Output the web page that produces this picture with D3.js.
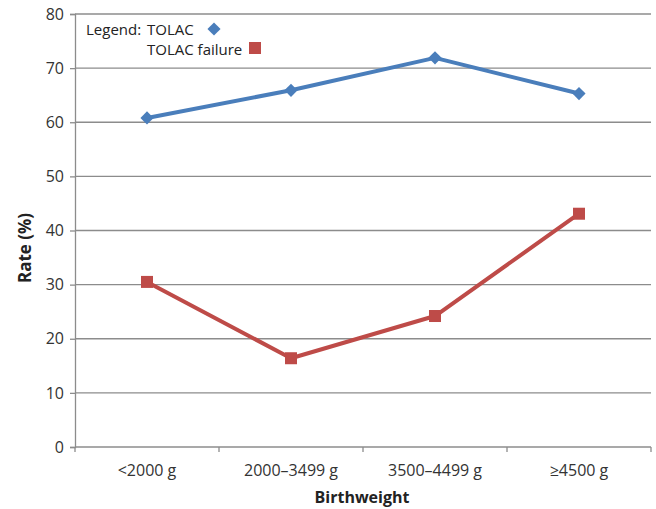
<!DOCTYPE html>
<html>
<head>
<meta charset="utf-8">
<script src="https://cdn.jsdelivr.net/npm/d3@7"></script>
<style>
  body { margin: 0; background: #fff; }
  svg text { font-family: "Open Sans", "Liberation Sans", sans-serif; fill: #222; }
</style>
</head>
<body>
<svg id="chart" width="656" height="509"></svg>
<script>
// Birthweight groups and rates (%)
const categories = ["<2000 g", "2000\u20133499 g", "3500\u20134499 g", "\u22654500 g"];
const tolac = [60.8, 65.9, 71.9, 65.3];
const tolacFailure = [30.5, 16.4, 24.2, 43.1];
const yTicks = [0, 10, 20, 30, 40, 50, 60, 70, 80];

const margin = { top: 14, right: 5, bottom: 62, left: 75 };
const W = 656, H = 509;
const svg = d3.select("#chart");
const g = svg.append("g").attr("transform", `translate(${margin.left},${margin.top})`);
const iw = W - margin.left - margin.right;
const ih = H - margin.top - margin.bottom;

const x = d3.scaleBand().domain(categories).range([0, iw]).padding(0);
const y = d3.scaleLinear().domain([0, 80]).range([ih, 0]);

const gridColor = "#8c8c8c";

// horizontal gridlines
g.append("g").selectAll("line").data(yTicks.filter(d => d > 0)).join("line")
  .attr("x1", 0).attr("x2", iw)
  .attr("y1", d => y(d)).attr("y2", d => y(d))
  .attr("stroke", gridColor).attr("stroke-width", 1.3);

// y axis
const yAxis = g.append("g").call(d3.axisLeft(y).tickValues(yTicks).tickSize(5).tickPadding(6));
yAxis.select(".domain").attr("stroke", gridColor).attr("stroke-width", 1.3);
yAxis.selectAll(".tick line").attr("stroke", gridColor).attr("stroke-width", 1.3);
yAxis.selectAll(".tick text").attr("font-size", 16).style("fill", "#333");

// x axis with ticks at band boundaries
const xg = g.append("g").attr("transform", `translate(0,${ih})`);
xg.append("line").attr("x1", 0).attr("x2", iw).attr("stroke", gridColor).attr("stroke-width", 1.3);
const bounds = categories.map(c => x(c)).concat([iw]);
xg.selectAll("line.tk").data(bounds).join("line").attr("class", "tk")
  .attr("x1", d => d).attr("x2", d => d).attr("y1", 0).attr("y2", 5)
  .attr("stroke", gridColor).attr("stroke-width", 1.3);
xg.selectAll("text").data(categories).join("text")
  .attr("x", d => x(d) + x.bandwidth() / 2).attr("y", 29)
  .attr("text-anchor", "middle").attr("font-size", 16).style("fill", "#333")
  .text(d => d);

// axis titles
svg.append("text").attr("x", margin.left + iw / 2 - 1).attr("y", 503)
  .attr("text-anchor", "middle").attr("font-size", 16).attr("font-weight", "bold")
  .text("Birthweight");
svg.append("text").attr("transform", `translate(31,248) rotate(-90)`)
  .attr("text-anchor", "middle").attr("font-size", 17).attr("font-weight", "bold")
  .text("Rate (%)");

const cx = c => x(c) + x.bandwidth() / 2;
const line = d3.line().x(d => cx(d.c)).y(d => y(d.v));

const blue = "#4a7ebb", red = "#be4b48";
const s1 = categories.map((c, i) => ({ c, v: tolac[i] }));
const s2 = categories.map((c, i) => ({ c, v: tolacFailure[i] }));

g.append("path").datum(s1).attr("d", line).attr("fill", "none")
  .attr("stroke", blue).attr("stroke-width", 4).attr("stroke-linejoin", "round");
g.append("path").datum(s2).attr("d", line).attr("fill", "none")
  .attr("stroke", red).attr("stroke-width", 4).attr("stroke-linejoin", "round");

const diamond = d3.symbol().type(d3.symbolDiamond2).size(110);
g.selectAll("path.dm").data(s1).join("path").attr("class", "dm")
  .attr("d", diamond).attr("transform", d => `translate(${cx(d.c)},${y(d.v)})`)
  .attr("fill", blue);
g.selectAll("rect.sq").data(s2).join("rect").attr("class", "sq")
  .attr("x", d => cx(d.c) - 6).attr("y", d => y(d.v) - 6)
  .attr("width", 12).attr("height", 12).attr("fill", red);

// legend, inside the top-left corner of the plot
const lg = svg.append("g");
lg.append("text").attr("x", 86).attr("y", 35).attr("font-size", 15).text("Legend:");
lg.append("text").attr("x", 147).attr("y", 35).attr("font-size", 15).text("TOLAC");
lg.append("path").attr("d", diamond).attr("transform", "translate(214,29)").attr("fill", blue);
lg.append("text").attr("x", 147).attr("y", 55).attr("font-size", 15).text("TOLAC failure");
lg.append("rect").attr("x", 249).attr("y", 42).attr("width", 12).attr("height", 12).attr("fill", red);
</script>
</body>
</html>
